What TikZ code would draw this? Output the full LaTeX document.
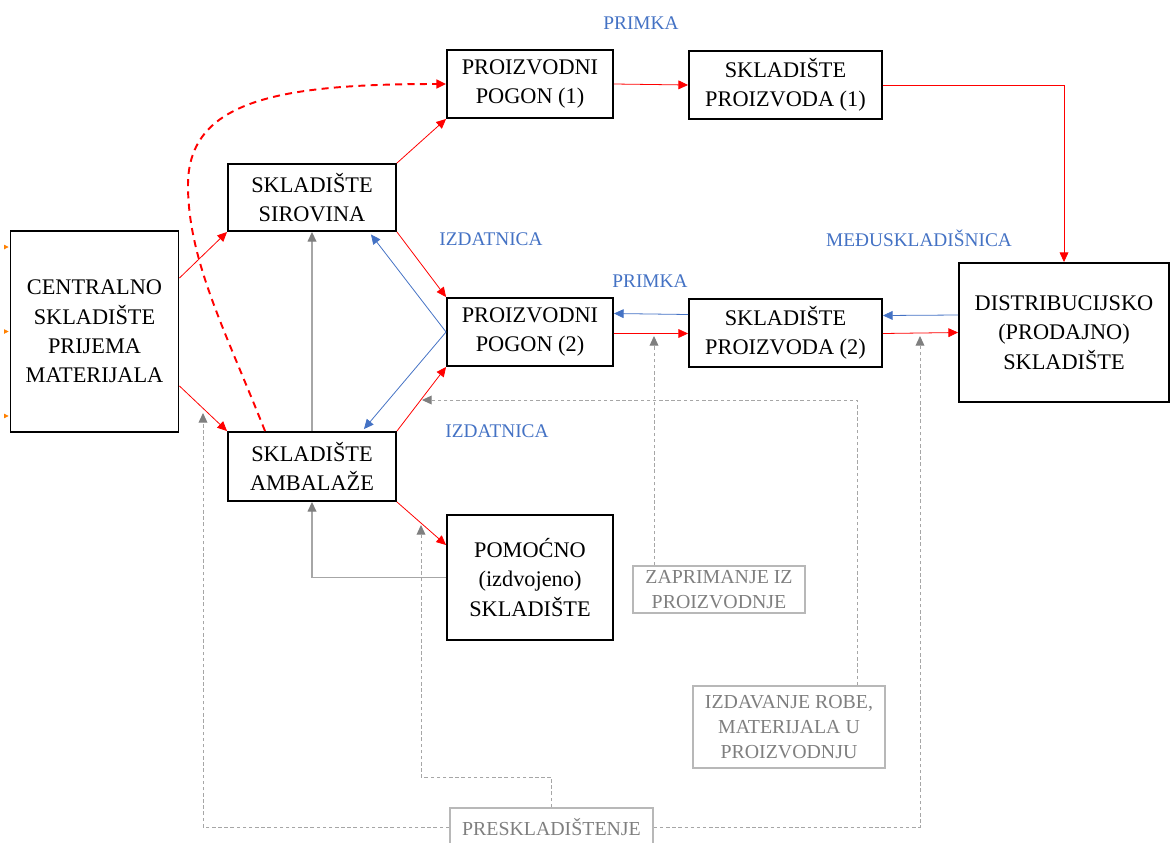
\documentclass[tikz,border=0pt]{standalone}
\usepackage{fontspec}
\setmainfont{Liberation Serif}
\usetikzlibrary{arrows.meta}

\definecolor{plava}{HTML}{4472C4}
\definecolor{siva}{HTML}{A6A6A6}
\definecolor{tamnosiva}{HTML}{7F7F7F}

\tikzset{
  skladiste/.style={draw, line width=1.1pt, align=center, inner sep=0pt,
    font=\fontsize{12.7}{16.7}\selectfont},
  dokument/.style={draw=siva!80, line width=0.9pt, align=center, inner sep=0pt,
    text=tamnosiva, font=\fontsize{11.3}{14.2}\selectfont},
  oznaka/.style={text=plava, inner sep=0pt, font=\fontsize{11}{12}\selectfont},
  tok/.style={red, line width=0.45pt, -{Triangle[length=5.5pt,width=5pt]}},
  povrat/.style={plava, line width=0.45pt, -{Triangle[length=5.5pt,width=5pt]}},
  sivo/.style={siva, line width=0.7pt, -{Triangle[length=5.5pt,width=5pt,color=tamnosiva]}},
  crtkano/.style={siva, line width=0.55pt, dash pattern=on 2pt off 1.5pt,
    -{Triangle[length=5.5pt,width=5pt,color=tamnosiva]}}
}

\begin{document}
\begin{tikzpicture}[x=0.02cm, y=-0.02cm]
  \useasboundingbox (0,0) rectangle (1170,842);

  % skladista
  \node[skladiste, minimum width=3.36cm, minimum height=4.02cm] (centralno) at (94.5,331.5)
    {CENTRALNO\\SKLADIŠTE\\PRIJEMA\\MATERIJALA};
  \node[skladiste, minimum width=3.36cm, minimum height=1.34cm] (sirovina) at (312,197.5)
    {SKLADIŠTE\\SIROVINA};
  \node[skladiste, minimum width=3.36cm, minimum height=1.38cm] (ambalaza) at (312,466.5)
    {SKLADIŠTE\\AMBALAŽE};
  \node[skladiste, minimum width=3.32cm, minimum height=1.36cm] (pogon1) at (530,84)
    {PROIZVODNI\\POGON (1)};
  \node[skladiste, minimum width=3.86cm, minimum height=1.36cm] (proizvoda1) at (785.5,85)
    {SKLADIŠTE\\PROIZVODA (1)};
  \node[skladiste, minimum width=3.32cm, minimum height=1.36cm] (pogon2) at (530,332)
    {PROIZVODNI\\POGON (2)};
  \node[skladiste, minimum width=3.86cm, minimum height=1.36cm] (proizvoda2) at (785.5,333)
    {SKLADIŠTE\\PROIZVODA (2)};
  \node[skladiste, minimum width=4.2cm, minimum height=2.78cm] (distribucija) at (1064,332.5)
    {DISTRIBUCIJSKO\\(PRODAJNO)\\SKLADIŠTE};
  \node[skladiste, minimum width=3.32cm, minimum height=2.5cm] (pomocno) at (530,577.5)
    {POMOĆNO\\(izdvojeno)\\SKLADIŠTE};

  % dokumenti
  \node[dokument, minimum width=3.44cm, minimum height=0.94cm] (zaprimanje) at (719,589.5)
    {ZAPRIMANJE IZ\\PROIZVODNJE};
  \node[dokument, minimum width=3.84cm, minimum height=1.64cm] (izdavanje) at (789,727)
    {IZDAVANJE ROBE,\\MATERIJALA U\\PROIZVODNJU};
  \node[dokument, minimum width=4.06cm, minimum height=0.76cm] (preskladistenje) at (551.5,827)
    {PRESKLADIŠTENJE};

  % oznake
  \node[oznaka] (primka1) at (641,23) {PRIMKA};
  \node[oznaka] (izdatnica1) at (491,239) {IZDATNICA};
  \node[oznaka] (primka2) at (650,281) {PRIMKA};
  \node[oznaka] (medjuskl) at (919,238) {MEĐUSKLADIŠNICA};
  \node[oznaka] (izdatnica2) at (497,431) {IZDATNICA};

  % tok materijala
  \draw[tok] ([yshift=1.07cm]centralno.east) -- (sirovina.south west);
  \draw[tok] ([yshift=-1.09cm]centralno.east) -- (ambalaza.north west);
  \draw[tok] (sirovina.north east) -- (pogon1.south west);
  \draw[tok] (sirovina.south east) -- (pogon2.north west);
  \draw[tok] (ambalaza.north east) -- (pogon2.south west);
  \draw[tok] (ambalaza.south east) -- ([yshift=0.65cm]pomocno.west);
  \draw[tok] (pogon1.east) -- (proizvoda1.west);
  \draw[tok] (proizvoda1.east) -| (distribucija.north);
  \draw[tok] ([yshift=-0.03cm]pogon2.east) -- ([yshift=-0.01cm]proizvoda2.west);
  \draw[tok] ([yshift=-0.01cm]proizvoda2.east) -- (distribucija.west);
  \draw[tok, line width=1.1pt, dash pattern=on 4pt off 3pt]
    ([xshift=-0.94cm]ambalaza.north) .. controls (225,330) and (188,260) .. (188,185)
    .. controls (188,100) and (280,84) .. (pogon1.west);

  % povrat
  \draw[povrat] (pogon2.west) -- ([xshift=-0.52cm,yshift=-0.05cm]sirovina.south east);
  \draw[povrat] (pogon2.west) -- ([xshift=-0.66cm,yshift=0.04cm]ambalaza.north east);
  \draw[povrat] ([yshift=0.37cm]proizvoda2.west) -- ([yshift=0.37cm]pogon2.east);
  \draw[povrat] ([yshift=0.35cm]distribucija.west) -- ([yshift=0.35cm]proizvoda2.east);

  \draw[sivo] (ambalaza.north) -- (sirovina.south);
  \draw[sivo] (pomocno.west) -| (ambalaza.south);

  % dokumentacija
  \coordinate (zapulaz) at (654,336);
  \coordinate (izdulaz) at (422,400);
  \coordinate (presklijevo) at (203,413);
  \coordinate (preskldesno) at (920,336);
  \coordinate (preskpom) at (421,525);
  \coordinate (preskugao) at (421,777);
  \draw[crtkano] (zapulaz |- zaprimanje.north) -- (zapulaz);
  \draw[crtkano] ([xshift=1.36cm]izdavanje.north) |- (izdulaz);
  \draw[crtkano] (preskladistenje.west) -| (presklijevo);
  \draw[crtkano] (preskladistenje.east) -| (preskldesno);
  \draw[crtkano] (preskladistenje.north) |- (preskugao) -- (preskpom);

  \foreach \s in {1.69,0,-1.69}
    \draw[orange, line width=0.4pt, -{Triangle[length=2.5pt,width=2.5pt]}]
      ([xshift=-0.08cm,yshift=\s cm]centralno.west) -- ([xshift=-0.02cm,yshift=\s cm]centralno.west);
\end{tikzpicture}
\end{document}
